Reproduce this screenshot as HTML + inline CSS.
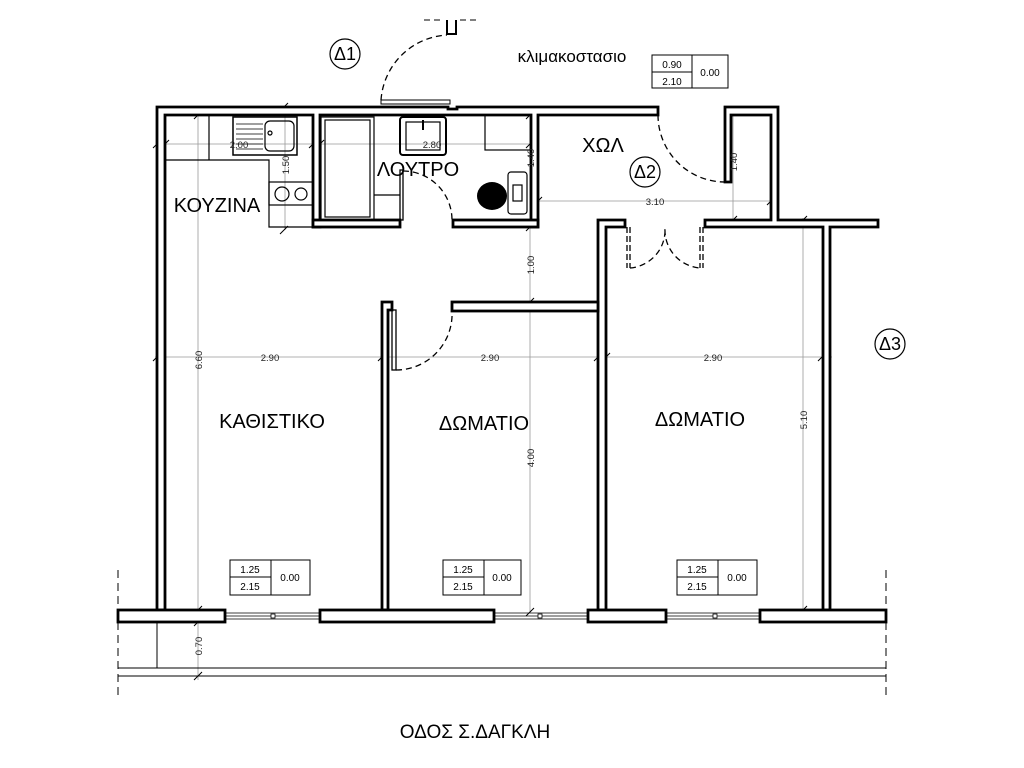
<!DOCTYPE html>
<html><head><meta charset="utf-8"><style>
html,body{margin:0;padding:0;background:#fff;}
svg{display:block;font-family:"Liberation Sans","DejaVu Sans",sans-serif;}
</style></head><body>
<svg width="1024" height="768" viewBox="0 0 1024 768" xmlns="http://www.w3.org/2000/svg">
<rect width="1024" height="768" fill="#fff"/>
<g stroke="#999" stroke-width="0.8" fill="none">
<line x1="157" y1="144" x2="538" y2="144"/>
<line x1="285" y1="107" x2="285" y2="230"/>
<line x1="530" y1="112" x2="530" y2="612"/>
<line x1="538" y1="201" x2="776" y2="201"/>
<line x1="733" y1="112" x2="733" y2="222"/>
<line x1="155" y1="357" x2="832" y2="357"/>
<line x1="198" y1="112" x2="198" y2="680"/>
<line x1="803" y1="218" x2="803" y2="612"/>
</g>
<g stroke="#000" stroke-width="1">
<path d="M153 148l8-8M161 148l8-8M280 111l8-8M280 234l8-8M309 148l8-8M316 148l8-8M526 148l8-8M526 119l8-8M526 231l8-8M526 306l8-8M526 616l8-8M534 205l8-8M767 205l8-8M729 119l8-8M729 224l8-8M153 361l8-8M378 361l8-8M594 361l8-8M602 361l8-8M818 361l8-8M194 119l8-8M194 614l8-8M194 626l8-8M194 680l8-8M799 224l8-8M799 614l8-8"/>
</g>
<g fill="#fff" stroke="#000" stroke-width="2.8">
<path d="M157 107 H448 V109 H457 V107 H658 V115 H538 V227 H531 V115 H320 V227 H313 V115 H165 V610 H157 Z"/>
<rect x="313" y="220" width="87" height="7"/>
<rect x="453" y="220" width="85" height="7"/>
<path d="M725 107 H778 V220 H878 V227 H830 V610 H823 V227 H705 V220 H771 V115 H731 V182 H725 Z"/>
<path d="M598 220 H625 V227 H606 V610 H598 Z"/>
<rect x="452" y="302" width="146" height="9"/>
<path d="M382 302 H392 V310 H388 V610 H382 Z"/>
<rect x="118" y="610" width="107" height="12"/>
<rect x="320" y="610" width="174" height="12"/>
<rect x="588" y="610" width="78" height="12"/>
<rect x="760" y="610" width="126" height="12"/>
</g>
<g stroke="#000" stroke-width="0.8">
<path d="M225 613H320M225 616H320M225 619H320M494 613H588M494 616H588M494 619H588M666 613H760M666 616H760M666 619H760"/>
</g>
<g fill="#fff" stroke="#000" stroke-width="0.8"><rect x="271" y="614" width="4" height="4"/><rect x="538" y="614" width="4" height="4"/><rect x="713" y="614" width="4" height="4"/></g>
<g stroke="#000" stroke-width="1" fill="none">
<line x1="118" y1="668" x2="886" y2="668"/>
<line x1="118" y1="676" x2="886" y2="676"/>
<line x1="157" y1="622" x2="157" y2="668"/>
<line x1="118" y1="570" x2="118" y2="697" stroke-dasharray="8,5"/>
<line x1="886" y1="570" x2="886" y2="697" stroke-dasharray="8,5"/>
</g>
<g fill="none" stroke="#000" stroke-width="1.3">
<rect x="381" y="100" width="69" height="4" stroke-width="1"/>
<path d="M381 100 A70 70 0 0 1 447 35" stroke-dasharray="6,4"/>
<path d="M447 20V34H456V20" stroke-width="2"/>
<path d="M424 20H442M460 20H478" stroke-dasharray="6,4" stroke-width="1"/>
<path d="M658 115 A67 67 0 0 0 725 182" stroke-dasharray="6,4"/>
<path d="M627 227V268M630 227V268M700 227V268M703 227V268" stroke-dasharray="6,3"/>
<path d="M630 268 A38 38 0 0 0 665 228 A38 38 0 0 0 700 268" stroke-dasharray="6,4"/>
<rect x="400" y="170" width="3" height="50"/>
<path d="M403 171 A49 49 0 0 1 452 220" stroke-dasharray="6,4"/>
<rect x="392" y="310" width="4" height="60"/>
<path d="M396 370 A56 56 0 0 0 452 311" stroke-dasharray="6,4"/>
</g>
<g fill="none" stroke="#000" stroke-width="1.2">
<path d="M165 160 H269 V227 H313"/>
<line x1="209" y1="115" x2="209" y2="160"/>
<rect x="269" y="182" width="44" height="23"/>
<circle cx="282" cy="194" r="7"/><circle cx="301" cy="194" r="6"/>
<rect x="233" y="117" width="64" height="38" stroke-width="1.5"/>
<rect x="265" y="121" width="29" height="30" rx="5"/>
<path d="M236 124H263M236 129H263M236 134H263M236 139H263M236 144H263M236 149H263" stroke-width="0.8"/>
<circle cx="270" cy="133" r="2"/>
</g>
<g fill="none" stroke="#000" stroke-width="1.2">
<rect x="321" y="117" width="53" height="103"/>
<rect x="325" y="120" width="45" height="97"/>
<line x1="374" y1="195" x2="400" y2="195"/>
<rect x="400" y="117" width="46" height="38" rx="3" stroke-width="2"/>
<rect x="406" y="122" width="34" height="28"/>
<line x1="423" y1="120" x2="423" y2="130" stroke-width="2"/>
<rect x="485" y="115" width="46" height="35"/>
<rect x="508" y="172" width="19" height="42" rx="3"/>
<rect x="513" y="185" width="9" height="16"/>
</g>
<ellipse cx="492" cy="196" rx="15" ry="14" fill="#000"/>
<g fill="#fff" stroke="#000" stroke-width="1">
<rect x="652" y="55" width="76" height="33"/><line x1="692" y1="55" x2="692" y2="88"/><line x1="652" y1="72" x2="692" y2="72"/>
<rect x="230" y="560" width="80" height="35"/><line x1="271" y1="560" x2="271" y2="595"/><line x1="230" y1="577" x2="271" y2="577"/>
<rect x="443" y="560" width="78" height="35"/><line x1="484" y1="560" x2="484" y2="595"/><line x1="443" y1="577" x2="484" y2="577"/>
<rect x="677" y="560" width="80" height="35"/><line x1="718" y1="560" x2="718" y2="595"/><line x1="677" y1="577" x2="718" y2="577"/>
</g>
<g font-size="10" text-anchor="middle" fill="#000">
<text x="672" y="68">0.90</text><text x="672" y="85">2.10</text><text x="710" y="76">0.00</text>
<text x="250" y="573">1.25</text><text x="250" y="590">2.15</text><text x="290" y="581">0.00</text>
<text x="463" y="573">1.25</text><text x="463" y="590">2.15</text><text x="502" y="581">0.00</text>
<text x="697" y="573">1.25</text><text x="697" y="590">2.15</text><text x="737" y="581">0.00</text>
</g>
<g font-size="9.5" fill="#222" text-anchor="middle">
<text x="239" y="148">2.00</text><text x="432" y="148">2.80</text>
<text x="655" y="205">3.10</text>
<text x="270" y="361">2.90</text><text x="490" y="361">2.90</text><text x="713" y="361">2.90</text>
<text transform="translate(289,165) rotate(-90)">1.50</text>
<text transform="translate(534,158) rotate(-90)">1.40</text>
<text transform="translate(534,265) rotate(-90)">1.00</text>
<text transform="translate(534,458) rotate(-90)">4.00</text>
<text transform="translate(737,162) rotate(-90)">1.40</text>
<text transform="translate(202,360) rotate(-90)">6.60</text>
<text transform="translate(807,420) rotate(-90)">5.10</text>
<text transform="translate(202,646) rotate(-90)">0.70</text>
</g>
<g font-size="20" fill="#000" text-anchor="middle">
<text x="217" y="212">ΚΟΥΖΙΝΑ</text>
<text x="418" y="176">ΛΟΥΤΡΟ</text>
<text x="603" y="152">ΧΩΛ</text>
<text x="272" y="428">ΚΑΘΙΣΤΙΚΟ</text>
<text x="484" y="430">ΔΩΜΑΤΙΟ</text>
<text x="700" y="426">ΔΩΜΑΤΙΟ</text>
<text x="572" y="62" font-size="17">κλιμακοστασιο</text>
<text x="475" y="738" font-size="19">ΟΔΟΣ Σ.ΔΑΓΚΛΗ</text>
</g>
<g fill="none" stroke="#000" stroke-width="1.2">
<circle cx="345" cy="54" r="15"/><circle cx="645" cy="172" r="15"/><circle cx="890" cy="344" r="15"/>
</g>
<g font-size="18" text-anchor="middle" fill="#000">
<text x="345" y="60">Δ1</text><text x="645" y="178">Δ2</text><text x="890" y="350">Δ3</text>
</g>
</svg>
</body></html>
